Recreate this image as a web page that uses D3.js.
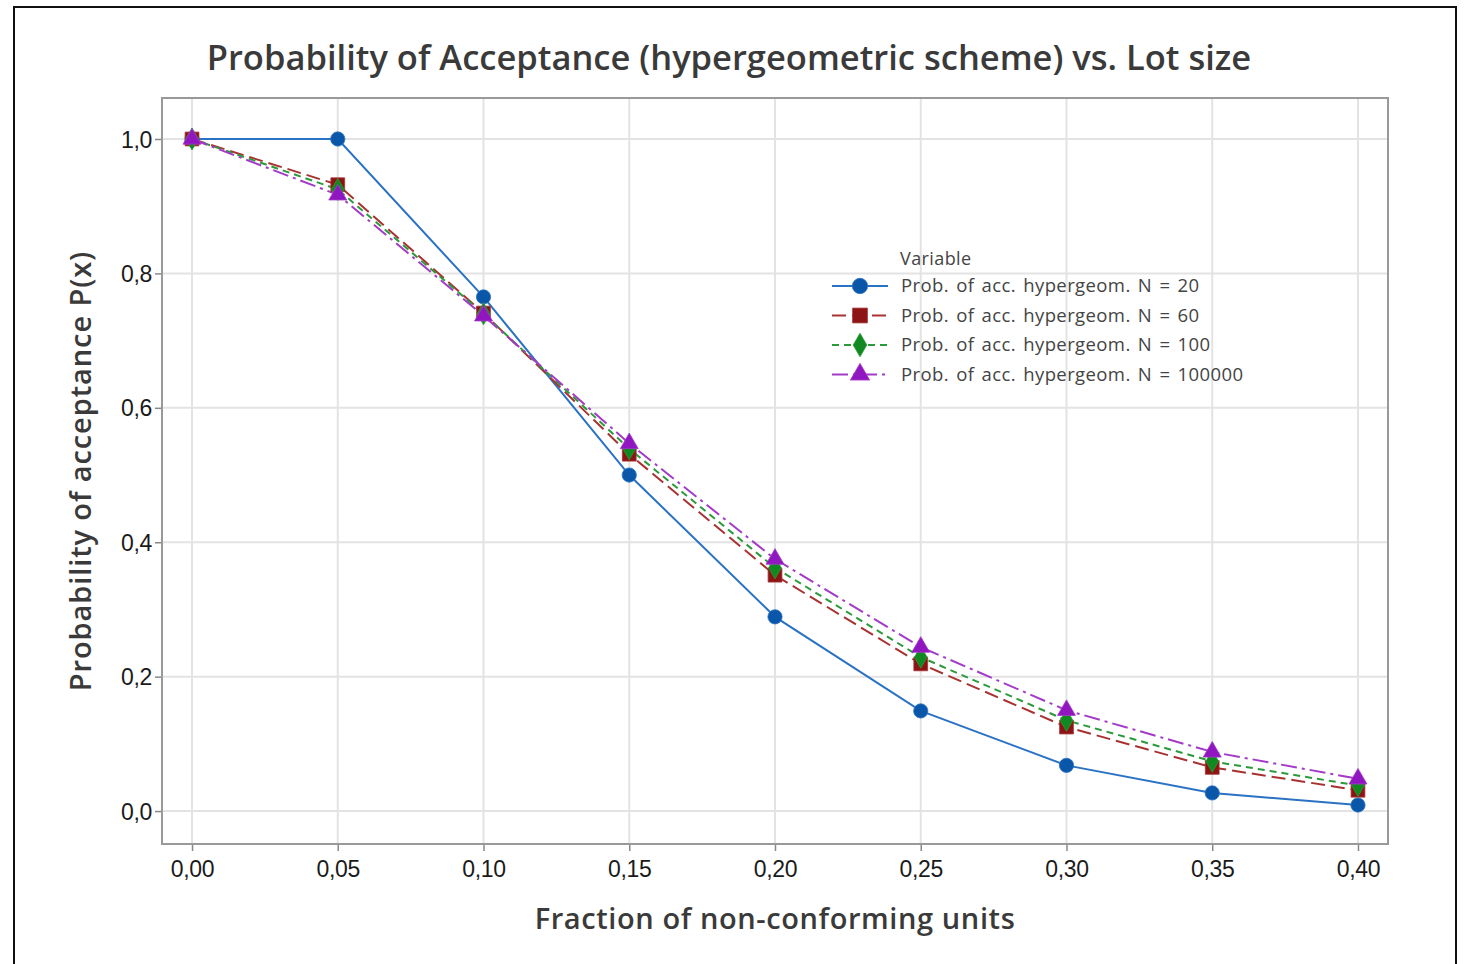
<!DOCTYPE html>
<html>
<head>
<meta charset="utf-8">
<script src="https://cdn.jsdelivr.net/npm/d3@7"></script>
<style>
  body { margin: 0; background: #fff; }
  svg { display: block; font-family: "Open Sans", "Noto Sans", sans-serif; }
</style>
</head>
<body>
<div id="chart"></div>
<script>
// fraction of non-conforming units
const fractions = [0, 0.05, 0.10, 0.15, 0.20, 0.25, 0.30, 0.35, 0.40];
const xTicks = [0, 0.05, 0.10, 0.15, 0.20, 0.25, 0.30, 0.35, 0.40];
const yTicks = [0, 0.2, 0.4, 0.6, 0.8, 1.0];

// probability of acceptance
const accN20 = [1.0, 1.0, 0.765, 0.500, 0.289, 0.149, 0.068, 0.027, 0.009];
const accN60 = [1.0, 0.932, 0.741, 0.531, 0.351, 0.219, 0.125, 0.065, 0.031];
const accN100 = [1.0, 0.925, 0.740, 0.539, 0.362, 0.229, 0.135, 0.074, 0.038];
const accN100000 = [1.0, 0.917, 0.737, 0.547, 0.375, 0.244, 0.150, 0.088, 0.048];

const seriesNames = [
  "Prob. of acc. hypergeom. N = 20",
  "Prob. of acc. hypergeom. N = 60",
  "Prob. of acc. hypergeom. N = 100",
  "Prob. of acc. hypergeom. N = 100000"
];

const width = 1465, height = 964;
const margin = { left: 162, right: 77, top: 98, bottom: 120 };

const series = [
  { name: seriesNames[0], values: accN20, line: "#2a72c4", fill: "#0a56a8", dash: null, symbol: d3.symbolCircle, size: 160 },
  { name: seriesNames[1], values: accN60, line: "#a83232", fill: "#8c1414", dash: "14,6", symbol: d3.symbolSquare, size: 190 },
  { name: seriesNames[2], values: accN100, line: "#2a9a3a", fill: "#108a20", dash: "7,5", symbol: d3.symbolDiamond, size: 140 },
  { name: seriesNames[3], values: accN100000, line: "#a43ac8", fill: "#9016c0", dash: "16,5,3,5", symbol: d3.symbolTriangle, size: 140 }
];

const svg = d3.select("#chart").append("svg")
  .attr("width", width)
  .attr("height", height);

// outer frame
svg.append("rect")
  .attr("x", 14).attr("y", 7)
  .attr("width", 1442).attr("height", 980)
  .attr("fill", "#fff")
  .attr("stroke", "#111")
  .attr("stroke-width", 2);

const x = d3.scaleLinear()
  .domain([-0.0103, 0.4103])
  .range([margin.left, width - margin.right]);

const y = d3.scaleLinear()
  .domain([-0.049, 1.061])
  .range([height - margin.bottom, margin.top]);

const fmt = v => d3.format(".2f")(v).replace(".", ",");
const fmtY = v => d3.format(".1f")(v).replace(".", ",");

// grid
const grid = svg.append("g");
grid.selectAll(".vg").data(xTicks).enter().append("line")
  .attr("x1", d => x(d)).attr("x2", d => x(d))
  .attr("y1", margin.top).attr("y2", height - margin.bottom)
  .attr("stroke", "#e3e3e3").attr("stroke-width", 2);
grid.selectAll(".hg").data(yTicks).enter().append("line")
  .attr("x1", margin.left).attr("x2", width - margin.right)
  .attr("y1", d => y(d)).attr("y2", d => y(d))
  .attr("stroke", "#e3e3e3").attr("stroke-width", 2);

// axes
const xAxis = svg.append("g")
  .attr("transform", `translate(0,${height - margin.bottom})`)
  .call(d3.axisBottom(x).tickValues(xTicks).tickFormat(fmt).tickSize(7).tickSizeOuter(0));
const yAxis = svg.append("g")
  .attr("transform", `translate(${margin.left},0)`)
  .call(d3.axisLeft(y).tickValues(yTicks).tickFormat(fmtY).tickSize(7).tickSizeOuter(0));

[xAxis, yAxis].forEach(a => {
  a.select(".domain").remove();
  a.selectAll(".tick line").attr("stroke", "#888").attr("stroke-width", 1.5);
  a.selectAll("text").attr("fill", "#1a1a1a")
    .style("font-size", "23px").style("letter-spacing", "-0.3px");
});
xAxis.selectAll("text").attr("dy", "1.0em");
yAxis.selectAll("text").attr("x", -10).attr("dy", "0.35em");

// plot frame
svg.append("rect")
  .attr("x", margin.left).attr("y", margin.top)
  .attr("width", width - margin.left - margin.right)
  .attr("height", height - margin.top - margin.bottom)
  .attr("fill", "none")
  .attr("stroke", "#999")
  .attr("stroke-width", 2);

// lines and markers
const line = d3.line()
  .x((d, i) => x(fractions[i]))
  .y(d => y(d));

const plot = svg.append("g");
series.forEach(s => {
  plot.append("path")
    .datum(s.values)
    .attr("d", line)
    .attr("fill", "none")
    .attr("stroke", s.line)
    .attr("stroke-width", 2)
    .attr("stroke-dasharray", s.dash);
});
series.forEach(s => {
  plot.selectAll(null).data(s.values).enter().append("path")
    .attr("d", d3.symbol().type(s.symbol).size(s.size))
    .attr("transform", (d, i) => `translate(${x(fractions[i])},${y(d)})`)
    .attr("fill", s.fill)
    .attr("stroke", s.line)
    .attr("stroke-width", 0.8);
});

// title and axis labels
svg.append("text")
  .attr("x", 729).attr("y", 70)
  .attr("text-anchor", "middle")
  .attr("fill", "#3a3a3a")
  .style("font-size", "34.5px")
  .style("font-weight", 600)
  .text("Probability of Acceptance (hypergeometric scheme) vs. Lot size");

svg.append("text")
  .attr("x", 775).attr("y", 929)
  .attr("text-anchor", "middle")
  .attr("fill", "#3a3a3a")
  .style("font-size", "29px")
  .style("font-weight", 600)
  .style("letter-spacing", "0.6px")
  .text("Fraction of non-conforming units");

svg.append("text")
  .attr("transform", "translate(91,471) rotate(-90)")
  .attr("text-anchor", "middle")
  .attr("fill", "#3a3a3a")
  .style("font-size", "29px")
  .style("font-weight", 600)
  .style("letter-spacing", "0.9px")
  .text("Probability of acceptance P(x)");

// legend
const legend = svg.append("g").attr("transform", "translate(832,258)");
legend.append("text")
  .attr("x", 68).attr("y", 7)
  .attr("fill", "#444")
  .style("font-size", "18px")
  .style("letter-spacing", "0.4px")
  .text("Variable");

series.forEach((s, i) => {
  const g = legend.append("g").attr("transform", `translate(0,${28 + i * 29.5})`);
  g.append("line")
    .attr("x1", 0).attr("x2", 56)
    .attr("stroke", s.line)
    .attr("stroke-width", 2)
    .attr("stroke-dasharray", s.dash);
  g.append("path")
    .attr("d", d3.symbol().type(s.symbol).size(s.size * 1.15))
    .attr("transform", "translate(28,0)")
    .attr("fill", s.fill)
    .attr("stroke", s.line)
    .attr("stroke-width", 0.8);
  g.append("text")
    .attr("x", 69).attr("y", 0)
    .attr("dy", "0.35em")
    .attr("fill", "#444")
    .style("font-size", "18.5px")
    .style("word-spacing", "2px")
    .style("letter-spacing", "0.4px")
    .text(s.name);
});
</script>
</body>
</html>
